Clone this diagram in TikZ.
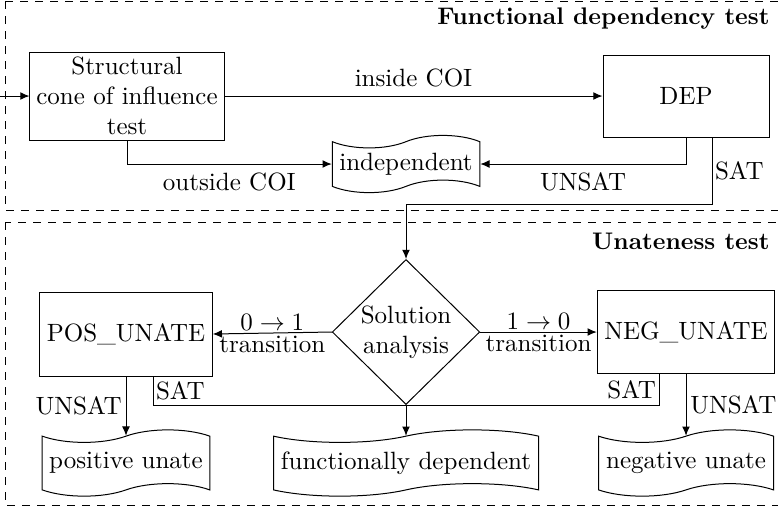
\documentclass[tikz,border=0pt]{standalone}
\usepackage{tikz}
\usetikzlibrary{arrows.meta,calc,positioning,shapes.geometric,shapes.symbols}

\tikzset{
  block/.style={draw, align=center, inner sep=2pt},
  result/.style={draw, tape, align=center, inner sep=2pt},
  decide/.style={draw, diamond, align=center, inner sep=0pt},
  frame/.style={draw, dashed},
  title/.style={anchor=base east, inner sep=0pt, font=\fontsize{9.6}{11}\selectfont\bfseries},
  flow/.style={-{Latex[length=1.3mm,width=1.1mm]}},
}

\begin{document}
\begin{tikzpicture}[x=0.4pt,y=-0.4pt]
  \useasboundingbox (0,0) rectangle (778,509);
  % dashed frames of the two tests
  \draw[frame] (5,1) rectangle (790,210);
  \draw[frame] (5,222) rectangle (790,505);
  \node[title] (fdtitle) at (770,24) {Functional dependency test};
  \node[title] (uttitle) at (770,249) {Unateness test};

  % functional dependency part
  \node[block, minimum width=77.6pt, minimum height=35.2pt] (coi) at (127,96)
    {Structural\\cone of influence\\test};
  \node[block, minimum width=66.4pt, minimum height=32.8pt] (dep) at (686,96) {DEP};
  \node[result, minimum width=59pt, minimum height=22pt] (indep) at (406,164) {independent};

  % unateness part
  \node[decide, minimum width=59pt, minimum height=58pt] (sol) at (406,332) {Solution\\analysis};
  \node[block, minimum width=69pt, minimum height=33.6pt] (pos) at (126,334) {POS\_UNATE};
  \node[block, minimum width=71pt, minimum height=33pt] (neg) at (686,332) {NEG\_UNATE};
  \node[result, minimum width=67pt, minimum height=26.5pt] (posres) at (126,463) {positive unate};
  \node[result, minimum width=106pt, minimum height=26.5pt] (fdres) at (406,463) {functionally dependent};
  \node[result, minimum width=70pt, minimum height=26.5pt] (negres) at (686,463) {negative unate};

  \coordinate (entry) at (0,96);
  \coordinate (depsat) at ($(dep.south)+(26,0)$);
  \coordinate (depbend) at (406,204);
  \coordinate (possat) at ($(pos.south)+(27,0)$);
  \coordinate (negsat) at ($(neg.south)+(-27,0)$);

  % connectors
  \draw[flow] (entry) -- (coi);
  \draw[flow] (coi) -- node[above] {inside COI} (dep);
  \draw[flow] (coi.south) |- node[pos=0.75,below] {outside COI} (indep);
  \draw[flow] (dep.south) |- node[pos=0.75,below] {UNSAT} (indep);
  \draw[flow] (depsat) -- node[right,inner sep=1pt] {SAT} (depsat |- depbend) -| (sol.north);
  \draw[flow] (sol.west) -- node[above,inner sep=1pt] {$0\rightarrow1$}
    node[below,inner sep=1pt] {transition} (pos.east);
  \draw[flow] (sol.east) -- node[above,inner sep=1pt] {$1\rightarrow0$}
    node[below,inner sep=1pt] {transition} (neg.west);
  \draw[flow] (pos.south) -- node[left,inner sep=1.5pt] {UNSAT} (posres.north);
  \draw[flow] (neg.south) -- node[right,inner sep=1.5pt] {UNSAT} (negres.north);
  \draw (possat) |- node[pos=0.25,right,inner sep=1pt] {SAT} (sol.south);
  \draw (negsat) |- node[pos=0.25,left,inner sep=1pt] {SAT} (sol.south);
  \draw[flow] (sol.south) -- (fdres.north);
\end{tikzpicture}
\end{document}
